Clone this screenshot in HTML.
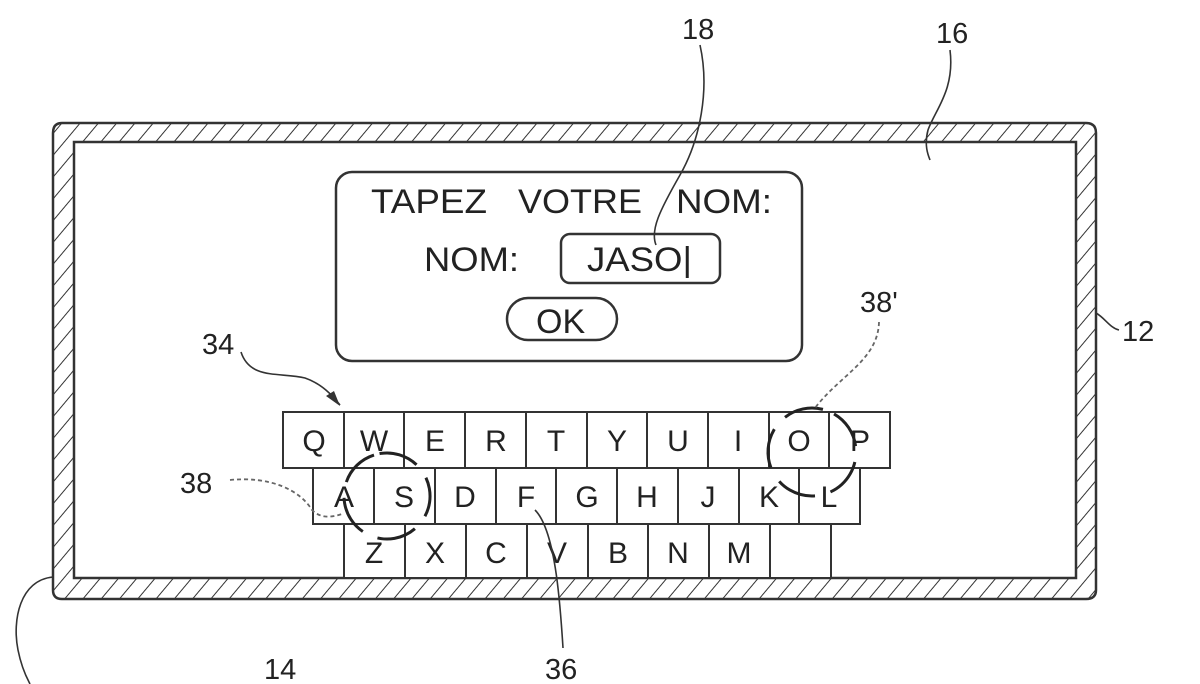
<!DOCTYPE html>
<html><head><meta charset="utf-8"><style>
html,body{margin:0;padding:0;background:#fff;}
svg{display:block;}
text{font-family:"Liberation Sans",Arial,sans-serif;fill:#222;}
</style></head><body>
<svg width="1200" height="684" viewBox="0 0 1200 684" xmlns="http://www.w3.org/2000/svg">
<defs>
<pattern id="h" width="14" height="14" patternUnits="userSpaceOnUse" patternTransform="rotate(40)">
<line x1="0" y1="0" x2="0" y2="14" stroke="#333" stroke-width="2"/>
</pattern>
</defs>
<path fill-rule="evenodd" fill="url(#h)" stroke="#333" stroke-width="2.5"
 d="M62,123 H1086 Q1096,123 1096,133 V590 Q1096,599 1086,599 H62 Q53,599 53,590 V133 Q53,123 62,123 Z M74,142 V578 H1076 V142 Z"/>
<rect x="336" y="172" width="466" height="189" rx="16" fill="none" stroke="#333" stroke-width="2.5"/>
<text x="371" y="213" font-size="34" textLength="116" lengthAdjust="spacingAndGlyphs">TAPEZ</text>
<text x="518" y="213" font-size="34" textLength="124" lengthAdjust="spacingAndGlyphs">VOTRE</text>
<text x="676" y="213" font-size="34" textLength="96" lengthAdjust="spacingAndGlyphs">NOM:</text>
<text x="424" y="271" font-size="34" textLength="95" lengthAdjust="spacingAndGlyphs">NOM:</text>
<rect x="561" y="234" width="159" height="49" rx="9" fill="none" stroke="#333" stroke-width="2.5"/>
<text x="587" y="271" font-size="34" textLength="105" lengthAdjust="spacingAndGlyphs">JASO|</text>
<rect x="507" y="298" width="110" height="42" rx="21" fill="none" stroke="#333" stroke-width="2.5"/>
<text x="536" y="333" font-size="34">OK</text>
<g stroke="#333" stroke-width="2" fill="#fff">
<rect x="283" y="412" width="607" height="56"/>
<rect x="313" y="468" width="547" height="56"/>
<rect x="344" y="524" width="487" height="54"/>
</g>
<g stroke="#333" stroke-width="2">
<path d="M344,412V468M404,412V468M465,412V468M526,412V468M587,412V468M647,412V468M708,412V468M769,412V468M829,412V468"/>
<path d="M374,468V524M435,468V524M496,468V524M556,468V524M617,468V524M678,468V524M739,468V524M799,468V524"/>
<path d="M405,524V578M466,524V578M527,524V578M588,524V578M648,524V578M709,524V578M770,524V578"/>
</g>
<g font-size="30" text-anchor="middle">
<text x="314" y="451">Q</text><text x="374" y="451">W</text><text x="435" y="451">E</text><text x="496" y="451">R</text><text x="556" y="451">T</text><text x="617" y="451">Y</text><text x="678" y="451">U</text><text x="738" y="451">I</text><text x="799" y="451">O</text><text x="860" y="451">P</text>
<text x="344" y="507">A</text><text x="404" y="507">S</text><text x="465" y="507">D</text><text x="526" y="507">F</text><text x="587" y="507">G</text><text x="647" y="507">H</text><text x="708" y="507">J</text><text x="769" y="507">K</text><text x="829" y="507">L</text>
<text x="374" y="563">Z</text><text x="435" y="563">X</text><text x="496" y="563">C</text><text x="557" y="563">V</text><text x="618" y="563">B</text><text x="678" y="563">N</text><text x="739" y="563">M</text>
</g>
<circle cx="387" cy="496" r="43" fill="none" stroke="#222" stroke-width="3" stroke-dasharray="40 16" transform="rotate(-100 387 496)"/>
<circle cx="812" cy="452" r="44" fill="none" stroke="#222" stroke-width="3" stroke-dasharray="40 16" transform="rotate(-60 812 452)"/>
<g font-size="29">
<text x="682" y="39">18</text>
<text x="936" y="43">16</text>
<text x="1122" y="341">12</text>
<text x="202" y="354">34</text>
<text x="860" y="312">38'</text>
<text x="180" y="493">38</text>
<text x="545" y="679">36</text>
<text x="264" y="679">14</text>
</g>
<g fill="none" stroke="#333" stroke-width="1.6">
<path d="M700,45 C710,90 700,140 680,175 C660,210 650,230 656,245"/>
<path d="M950,50 C955,90 935,110 928,130 C924,145 928,155 930,160"/>
<path d="M1096,313 C1105,318 1110,328 1119,330"/>
<path d="M241,352 C250,380 280,372 305,378 C322,384 332,395 340,405"/>
<path d="M53,577 C20,580 12,620 18,650 C22,670 28,680 30,684"/>
<path d="M535,510 C555,530 560,600 563,648"/>
</g>
<path d="M340,406 L326,396 L334,391 Z" fill="#333"/>
<g fill="none" stroke="#666" stroke-width="1.8" stroke-dasharray="4 3">
<path d="M879,322 C878,360 840,375 815,408"/>
<path d="M230,480 C270,476 300,490 312,510 C320,518 330,518 342,514"/>
</g>
</svg>
</body></html>
